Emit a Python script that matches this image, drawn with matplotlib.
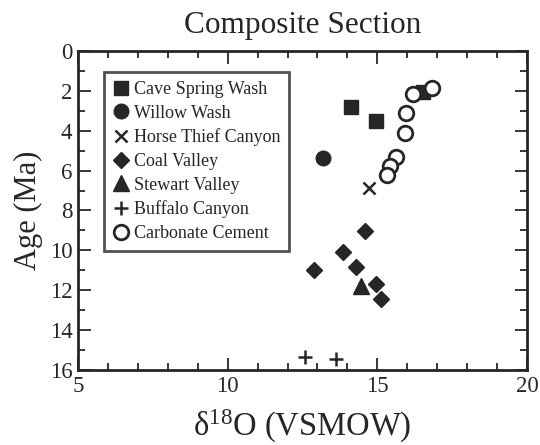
import matplotlib
matplotlib.use('Agg')
import matplotlib.pyplot as plt
from matplotlib.ticker import MultipleLocator

# d18O (VSMOW) vs age (Ma) for each locality
cave_x = [14.13, 14.94, 16.52]
cave_y = [2.79, 3.50, 2.08]
willow_x = [13.19]
willow_y = [5.37]
horse_x = [14.71]
horse_y = [6.86]
coal_x = [14.60, 13.86, 12.88, 14.30, 14.97, 15.11]
coal_y = [9.02, 10.10, 10.97, 10.85, 11.68, 12.43]
stewart_x = [14.44]
stewart_y = [11.81]
buffalo_x = [12.58, 13.61]
buffalo_y = [15.35, 15.45]
cement_x = [16.83, 16.18, 15.97, 15.93, 15.63, 15.41, 15.32]
cement_y = [1.88, 2.16, 3.09, 4.10, 5.33, 5.78, 6.21]

plt.rcParams['font.family'] = ['Liberation Serif', 'DejaVu Serif']
ink = '#262626'

fig = plt.figure(figsize=(5.4, 4.45), dpi=100)
ax = fig.add_axes([0.1444, 0.1685, 0.8315, 0.717])

ms = 9.5
ax.plot(cave_x, cave_y, 's', color=ink, ms=ms, ls='none', label='Cave Spring Wash')
ax.plot(willow_x, willow_y, 'o', color=ink, ms=ms + 1, ls='none', label='Willow Wash')
ax.plot(horse_x, horse_y, 'x', color=ink, ms=ms - 1, mew=1.8, ls='none', label='Horse Thief Canyon')
ax.plot(coal_x, coal_y, 'D', color=ink, ms=ms - 1, ls='none', label='Coal Valley')
ax.plot(stewart_x, stewart_y, '^', color=ink, ms=ms + 1.5, ls='none', label='Stewart Valley')
ax.plot(buffalo_x, buffalo_y, '+', color=ink, ms=ms + 1, mew=1.8, ls='none', label='Buffalo Canyon')
ax.plot(cement_x, cement_y, 'o', mfc='white', mec=ink, mew=2, ms=ms + 1, ls='none', label='Carbonate Cement')

ax.set_xlim(5, 20)
ax.set_ylim(16, 0)
ax.xaxis.set_major_locator(MultipleLocator(5))
ax.xaxis.set_minor_locator(MultipleLocator(1))
ax.yaxis.set_major_locator(MultipleLocator(2))
ax.yaxis.set_minor_locator(MultipleLocator(1))
ax.tick_params(which='both', direction='in', top=True, right=True, colors=ink,
               labelsize=16.5, width=1.3, pad=4)
ax.tick_params(which='major', length=9)
ax.tick_params(which='minor', length=5)
for sp in ax.spines.values():
    sp.set_linewidth(2)
    sp.set_color(ink)

ax.set_title('Composite Section', fontsize=22.5, color=ink, pad=13)
ax.set_xlabel(r'$\mathregular{\delta^{18}}$O (VSMOW)', fontsize=23.5, color=ink, labelpad=8)
ax.set_ylabel('Age (Ma)', fontsize=22, color=ink, labelpad=5)

leg = ax.legend(loc='upper left', bbox_to_anchor=(0.058, 0.934), fontsize=13,
                frameon=True, fancybox=False, handlelength=0.9, handletextpad=0.25,
                labelspacing=0.37, borderpad=0.5, borderaxespad=0)
leg.get_frame().set_edgecolor(ink)
leg.get_frame().set_linewidth(2)
for t in leg.get_texts():
    t.set_color(ink)

fig.savefig('out.png', dpi=100)
